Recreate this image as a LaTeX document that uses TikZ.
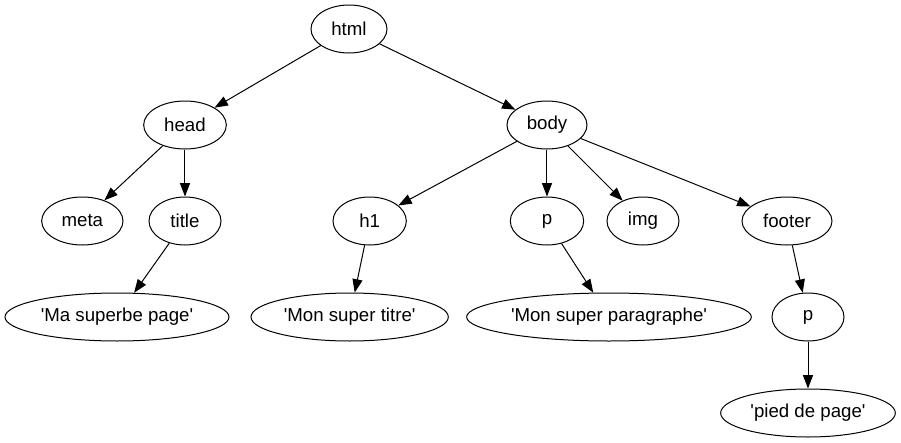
\documentclass[tikz,border=0pt]{standalone}
\usepackage{fontspec}
\setmainfont{Liberation Sans}
\usetikzlibrary{positioning,shapes.geometric,arrows.meta}
\newcommand{\quoted}[1]{\textquotesingle#1\textquotesingle}
\tikzset{
  tag/.style={draw, ellipse, line width=0.75pt, minimum width=54pt,
    minimum height=36pt, inner xsep=2pt, inner ysep=0pt,
    font=\fontsize{14pt}{16pt}\selectfont},
  arr/.style={-{Triangle[length=10pt,width=7.5pt]}, line width=0.75pt}
}
\begin{document}
\begin{tikzpicture}
  \useasboundingbox (-261.75pt,21.75pt) rectangle (414pt,-310.5pt);
  \node[tag, minimum width=57pt] (html) at (0,0) {html};
  \node[tag, minimum width=62pt] (head) [below of=html, node distance=72pt, xshift=-123pt] {head};
  \node[tag, minimum width=60pt] (body) [below of=html, node distance=72pt, xshift=148.5pt] {body};
  \node[tag, minimum width=61pt] (meta) [below of=head, node distance=72pt, xshift=-77pt] {meta};
  \node[tag] (title) [below of=head, node distance=72pt] {title};
  \node[tag, minimum width=55pt] (h1) [below of=body, node distance=72pt, xshift=-133pt] {h1};
  \node[tag, minimum width=55pt] (p) [below of=body, node distance=72pt] {p};
  \node[tag] (img) [below of=body, node distance=72pt, xshift=72pt] {img};
  \node[tag, minimum width=67.5pt] (footer) [below of=body, node distance=72pt, xshift=180pt] {footer};
  \node[tag, minimum width=168pt] (tpage) [below of=title, node distance=72pt, xshift=-51pt] {\quoted{Ma superbe page}};
  \node[tag, minimum width=148pt] (ttitre) [below of=h1, node distance=72pt, xshift=-15pt] {\quoted{Mon super titre}};
  \node[tag, minimum width=208pt] (tpara) [below of=p, node distance=72pt, xshift=46.5pt] {\quoted{Mon super paragraphe}};
  \node[tag] (pf) [below of=footer, node distance=72pt, xshift=15.75pt] {p};
  \node[tag, minimum width=131pt] (tpied) [below of=pf, node distance=72pt] {\quoted{pied de page}};
  \path[arr] (html) edge (head)
             (html) edge (body)
             (head) edge (meta)
             (head) edge (title)
             (title) edge (tpage)
             (body) edge (h1)
             (body) edge (p)
             (body) edge (img)
             (body) edge (footer)
             (h1) edge (ttitre)
             (p) edge (tpara)
             (footer) edge (pf)
             (pf) edge (tpied)
             ;
\end{tikzpicture}
\end{document}
